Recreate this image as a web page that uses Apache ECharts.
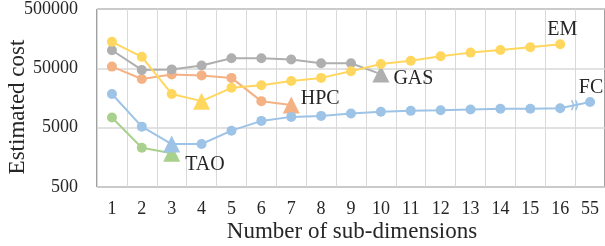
<!DOCTYPE html>
<html>
	<head>
		<meta charset="utf-8">
		<title></title>
		<style type="text/css">
			html, body { margin: 0; padding: 0; background: #fff; }
			#main{
				width: 605px;
				height: 246px;
			}
		</style>
	</head>
	<body>
		<div id="main"></div>
	</body>
<script src="https://cdn.jsdelivr.net/npm/echarts@6/dist/echarts.min.js" type="text/javascript" charset="utf-8"></script>
<script type="text/javascript">
	// x axis categories (last one is 55, after the break)
	var categories = ['1','2','3','4','5','6','7','8','9','10','11','12','13','14','15','16','55'];
	// y axis tick labels (log scale, one decade apart)
	var yTicks = [500, 5000, 50000, 500000];

	// estimated cost per series
	var tao = [7400, 2300, 1850];
	var hpc = [53500, 33000, 39500, 38000, 34500, 14000, 12000];
	var gas = [101000, 47000, 48000, 56000, 74000, 74000, 70500, 61000, 61000, 40000];
	var em  = [140000, 78000, 18500, 14000, 23500, 26000, 30500, 34500, 44500, 59000, 67000, 80000, 92000, 102000, 113000, 127000];
	var fc  = [18500, 5200, 2650, 2650, 4450, 6500, 7600, 7900, 8650, 9250, 9600, 9800, 10100, 10400, 10400, 10650, 13500];

	var font = 'Liberation Serif';
	var textColor = '#262626';

	// name, values, color, index of triangle, index of label, label placement
	var lines = [
		{name: 'TAO', data: tao, color: '#a9d18e', tri: 2, lab: 2, pos: 'right', off: [0, 11]},
		{name: 'HPC', data: hpc, color: '#f4b183', tri: 6, lab: 6, pos: 'right', off: [-4, -6]},
		{name: 'GAS', data: gas, color: '#afafaf', tri: 9, lab: 9, pos: 'right', off: [-1, 5]},
		{name: 'EM',  data: em,  color: '#ffd75e', tri: 3, lab: 15, pos: 'top', off: [2, 5]},
		{name: 'FC',  data: fc,  color: '#9dc3e6', tri: 2, lab: 16, pos: 'top', off: [1, 6]}
	];

	var series = lines.map(function(l){
		var d = l.data.map(function(v, i){
			var item = {value: v};
			if (i === l.tri) {
				item.symbol = 'triangle';
				item.symbolSize = 17;
			}
			if (i === l.lab) {
				item.label = {
					show: true,
					formatter: l.name,
					position: l.pos,
					offset: l.off,
					fontFamily: font,
					fontSize: 20,
					color: textColor
				};
			}
			return item;
		});
		return {
			name: l.name,
			type: 'line',
			yAxisIndex: 0,
			data: d,
			symbol: 'circle',
			symbolSize: 10,
			color: l.color,
			lineStyle: {width: 2, color: l.color},
			itemStyle: {color: l.color},
			label: {show: false},
			animation: false
		};
	});

	var titles = [
		{
			id: 'ytitle', type: 'text', x: 18, y: 107, rotation: Math.PI / 2,
			style: {text: 'Estimated cost', font: '23px ' + font, fill: textColor, textAlign: 'center', textVerticalAlign: 'middle'}
		},
		{
			id: 'xtitle', type: 'text', x: 352, y: 232,
			style: {text: 'Number of sub-dimensions', font: '23px ' + font, fill: textColor, textAlign: 'center', textVerticalAlign: 'middle'}
		}
	];

	var chartDom = document.getElementById('main');
	var myChart = echarts.init(chartDom);
	var option = {
		backgroundColor: '#fff',
		animation: false,
		grid: {
			left: 97, top: 8, width: 510, height: 179,
			show: true, borderColor: '#404040', borderWidth: 1
		},
		xAxis: {
			type: 'category',
			data: categories,
			boundaryGap: true,
			axisLine: {show: false},
			axisTick: {show: false},
			axisLabel: {interval: 0, margin: 13, fontFamily: font, fontSize: 18, color: textColor},
			splitLine: {show: true, interval: 0, lineStyle: {color: '#d9d9d9', width: 1}}
		},
		yAxis: [
			{
				// the scale the series are drawn on
				type: 'log', logBase: 10, min: 500, max: 500000,
				axisLine: {show: false}, axisTick: {show: false},
				axisLabel: {show: false}, splitLine: {show: false}
			},
			{
				// decade ticks and grid lines, same extent in log10(v/500)
				type: 'value', min: 0, max: 3, interval: 1, position: 'left',
				axisLine: {show: false}, axisTick: {show: false},
				axisLabel: {
					margin: 19, fontFamily: font, fontSize: 18, color: textColor,
					formatter: function(v){ return String(yTicks[v]); }
				},
				splitLine: {show: true, lineStyle: {color: '#d9d9d9', width: 1.5}}
			}
		],
		graphic: titles,
		series: series
	};
	myChart.setOption(option);

	// break mark on the FC line between 16 and 55: two ")" strokes
	var a = myChart.convertToPixel({xAxisIndex: 0, yAxisIndex: 0}, ['16', fc[15]]);
	var b = myChart.convertToPixel({xAxisIndex: 0, yAxisIndex: 0}, ['55', fc[16]]);
	var mx = (a[0] + b[0]) / 2, my = (a[1] + b[1]) / 2;
	var brk = '#9dc3e6';
	myChart.setOption({
		graphic: titles.concat([
			{id: 'brk1', type: 'arc', shape: {cx: mx - 10, cy: my, r: 8, startAngle: -0.65, endAngle: 0.65}, style: {stroke: brk, lineWidth: 1.5, fill: null}, z: 10},
			{id: 'brk2', type: 'arc', shape: {cx: mx - 6, cy: my, r: 8, startAngle: -0.65, endAngle: 0.65}, style: {stroke: brk, lineWidth: 1.5, fill: null}, z: 10}
		])
	});
</script>
</html>
